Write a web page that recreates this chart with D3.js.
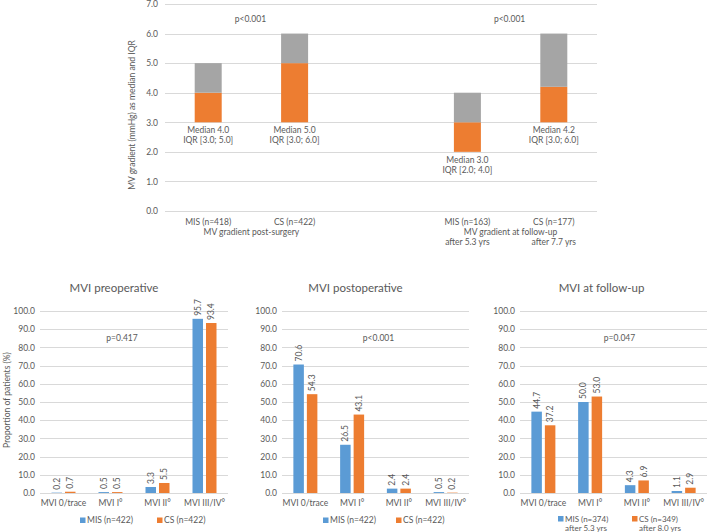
<!DOCTYPE html>
<html>
<head>
<meta charset="utf-8">
<script src="https://cdn.jsdelivr.net/npm/d3@7"></script>
<style>
  html, body { margin: 0; padding: 0; background: #ffffff; }
  svg { display: block; font-family: Lato, "Open Sans", sans-serif; }
</style>
</head>
<body>
<svg id="chart" width="708" height="532"></svg>
<script>
// ---------- DATA ----------
// Top chart: MV gradient (median and IQR)
const gradCategories = ["MIS (n=418)", "CS (n=422)", "", "MIS (n=163)", "CS (n=177)"];
const gradQ1     = [3.0, 3.0, null, 2.0, 3.0];
const gradMedian = [4.0, 5.0, null, 3.0, 4.2];
const gradQ3     = [5.0, 6.0, null, 4.0, 6.0];
const gradTicks  = [0, 1, 2, 3, 4, 5, 6, 7];
const gradGroups = ["MV gradient post-surgery", "MV gradient at follow-up"];
const gradFollowup = ["after 5.3 yrs", "after 7.7 yrs"];
const gradP = ["p<0.001", "p<0.001"];

// Bottom charts: MVI grades
const mviCategories = ["MVI 0/trace", "MVI I°", "MVI II°", "MVI III/IV°"];
const preMIS  = [0.2, 0.5, 3.3, 95.7];
const preCS   = [0.7, 0.5, 5.5, 93.4];
const postMIS = [70.6, 26.5, 2.4, 0.5];
const postCS  = [54.3, 43.1, 2.4, 0.2];
const fuMIS   = [44.7, 50.0, 4.3, 1.1];
const fuCS    = [37.2, 53.0, 6.9, 2.9];
const mviTicks = [0, 10, 20, 30, 40, 50, 60, 70, 80, 90, 100];
const mviTitles = ["MVI preoperative", "MVI postoperative", "MVI at follow-up"];
const mviP = ["p=0.417", "p<0.001", "p=0.047"];
const mviLegendMIS = [["MIS (n=422)"], ["MIS (n=422)"], ["MIS (n=374)", "after 5.3 yrs"]];
const mviLegendCS  = [["CS (n=422)"], ["CS (n=422)"], ["CS (n=349)", "after 8.0 yrs"]];

// ---------- STYLE ----------
const TEXT = "#595959", GRID = "#D9D9D9";
const BLUE = "#5B9BD5", ORANGE = "#ED7D31", GREY = "#A5A5A5";
const fmt = d3.format(".1f");

const svg = d3.select("#chart");

// ---------- TOP CHART ----------
(function () {
  const y = d3.scaleLinear().domain([0, 7]).range([211, 4]);
  const x = d3.scaleBand().domain(d3.range(gradCategories.length)).range([165, 597]);
  const barW = 27;
  const g = svg.append("g");

  g.selectAll("line.grid").data(gradTicks).join("line")
    .attr("x1", 165).attr("x2", 597)
    .attr("y1", d => Math.round(y(d)) + 0.5).attr("y2", d => Math.round(y(d)) + 0.5)
    .attr("stroke", GRID).attr("stroke-width", 1);

  const ax = g.append("g").attr("transform", "translate(165,0)")
    .call(d3.axisLeft(y).tickValues(gradTicks).tickFormat(fmt).tickSize(0).tickPadding(7));
  ax.select(".domain").remove();
  ax.selectAll("text").attr("fill", TEXT).style("font-size", "8.5px").style("font-family", "Lato");

  const idx = d3.range(gradCategories.length).filter(i => gradQ1[i] !== null);
  const cx = i => x(i) + x.bandwidth() / 2;

  g.selectAll("rect.lo").data(idx).join("rect")
    .attr("x", i => cx(i) - barW / 2).attr("width", barW)
    .attr("y", i => y(gradMedian[i])).attr("height", i => y(gradQ1[i]) - y(gradMedian[i]))
    .attr("fill", ORANGE);
  g.selectAll("rect.hi").data(idx).join("rect")
    .attr("x", i => cx(i) - barW / 2).attr("width", barW)
    .attr("y", i => y(gradQ3[i])).attr("height", i => y(gradMedian[i]) - y(gradQ3[i]))
    .attr("fill", GREY);

  idx.forEach(i => {
    const t = g.append("text").attr("text-anchor", "middle").attr("fill", TEXT)
      .style("font-size", "8.5px");
    t.append("tspan").attr("x", cx(i)).attr("y", y(gradQ1[i]) + 11).text("Median " + fmt(gradMedian[i]));
    t.append("tspan").attr("x", cx(i)).attr("y", y(gradQ1[i]) + 21)
      .text("IQR [" + fmt(gradQ1[i]) + "; " + fmt(gradQ3[i]) + "]");
    g.append("text").attr("x", cx(i)).attr("y", 225).attr("text-anchor", "middle")
      .attr("fill", TEXT).style("font-size", "8.5px").text(gradCategories[i]);
  });

  const pairs = [[0, 1], [3, 4]];
  pairs.forEach((p, k) => {
    const mid = (cx(p[0]) + cx(p[1])) / 2;
    g.append("text").attr("x", mid).attr("y", 235).attr("text-anchor", "middle")
      .attr("fill", TEXT).style("font-size", "8.5px").text(gradGroups[k]);
    g.append("text").attr("x", mid - 1).attr("y", 22).attr("text-anchor", "middle")
      .attr("fill", TEXT).style("font-size", "8.5px").text(gradP[k]);
  });
  [3, 4].forEach((i, k) => {
    g.append("text").attr("x", cx(i)).attr("y", 245).attr("text-anchor", "middle")
      .attr("fill", TEXT).style("font-size", "8.5px").text(gradFollowup[k]);
  });

  g.append("text").attr("transform", "translate(135,115) rotate(-90)")
    .attr("text-anchor", "middle").attr("fill", TEXT).style("font-size", "8.5px")
    .text("MV gradient (mmHg) as median and IQR");
})();

// ---------- BOTTOM CHARTS ----------
const panels = [
  { mis: preMIS,  cs: preCS,  x0: 40,  x1: 228, titleDx: -20, pDx: -12, legMIS: 80,  legCS: 157 },
  { mis: postMIS, cs: postCS, x0: 282, x1: 469, titleDx: -20, pDx: 3,   legMIS: 323, legCS: 396 },
  { mis: fuMIS,   cs: fuCS,   x0: 520, x1: 707, titleDx: -12, pDx: 6,   legMIS: 558, legCS: 632 }
];

panels.forEach((P, k) => {
  const y = d3.scaleLinear().domain([0, 100]).range([493, 311]);
  const x = d3.scaleBand().domain(mviCategories).range([P.x0, P.x1]);
  const barW = 10.5, gap = 3;
  const g = svg.append("g");

  g.selectAll("line.grid").data(mviTicks).join("line")
    .attr("x1", P.x0).attr("x2", P.x1)
    .attr("y1", d => Math.round(y(d)) + 0.5).attr("y2", d => Math.round(y(d)) + 0.5)
    .attr("stroke", GRID).attr("stroke-width", 1);

  const ax = g.append("g").attr("transform", `translate(${P.x0},0)`)
    .call(d3.axisLeft(y).tickValues(mviTicks).tickFormat(fmt).tickSize(0).tickPadding(5));
  ax.select(".domain").remove();
  ax.selectAll("text").attr("fill", TEXT).style("font-size", "8.5px").style("font-family", "Lato");

  const cx = c => x(c) + x.bandwidth() / 2;

  const series = [
    { vals: P.mis, color: BLUE, off: -gap / 2 - barW },
    { vals: P.cs,  color: ORANGE, off: gap / 2 }
  ];
  series.forEach(s => {
    g.selectAll(null).data(mviCategories).join("rect")
      .attr("x", (c) => cx(c) + s.off).attr("width", barW)
      .attr("y", (c, i) => y(s.vals[i])).attr("height", (c, i) => y(0) - y(s.vals[i]))
      .attr("fill", s.color);
    g.selectAll(null).data(mviCategories).join("text")
      .attr("transform", (c, i) => `translate(${cx(c) + s.off + barW / 2 + 3},${y(s.vals[i]) - 3}) rotate(-90)`)
      .attr("fill", TEXT).style("font-size", "8.5px")
      .text((c, i) => fmt(s.vals[i]));
  });

  g.selectAll(null).data(mviCategories).join("text")
    .attr("x", c => cx(c)).attr("y", 506).attr("text-anchor", "middle")
    .attr("fill", TEXT).style("font-size", "8.5px").text(c => c);

  const mid = (P.x0 + P.x1) / 2;
  g.append("text").attr("x", mid + P.titleDx).attr("y", 292).attr("text-anchor", "middle")
    .attr("fill", TEXT).style("font-size", "11.5px").text(mviTitles[k]);
  g.append("text").attr("x", mid + P.pDx).attr("y", 341).attr("text-anchor", "middle")
    .attr("fill", TEXT).style("font-size", "8.5px").text(mviP[k]);

  [[P.legMIS, BLUE, mviLegendMIS[k]], [P.legCS, ORANGE, mviLegendCS[k]]].forEach(([lx, col, lines]) => {
    const two = !!lines[1];
    const base = two ? 521.5 : 523;
    g.append("rect").attr("x", lx).attr("y", base - 5.5).attr("width", 5.5).attr("height", 5.5).attr("fill", col);
    g.append("text").attr("x", lx + 7).attr("y", base).attr("fill", TEXT)
      .style("font-size", two ? "8px" : "8.5px").text(lines[0]);
    if (two) {
      g.append("text").attr("x", lx + 7 + 21).attr("y", 530.5).attr("text-anchor", "middle")
        .attr("fill", TEXT).style("font-size", "8px").text(lines[1]);
    }
  });
});

svg.append("text").attr("transform", "translate(10,400) rotate(-90)")
  .attr("text-anchor", "middle").attr("fill", TEXT).style("font-size", "8.5px")
  .text("Proportion of patients (%)");
</script>
</body>
</html>
